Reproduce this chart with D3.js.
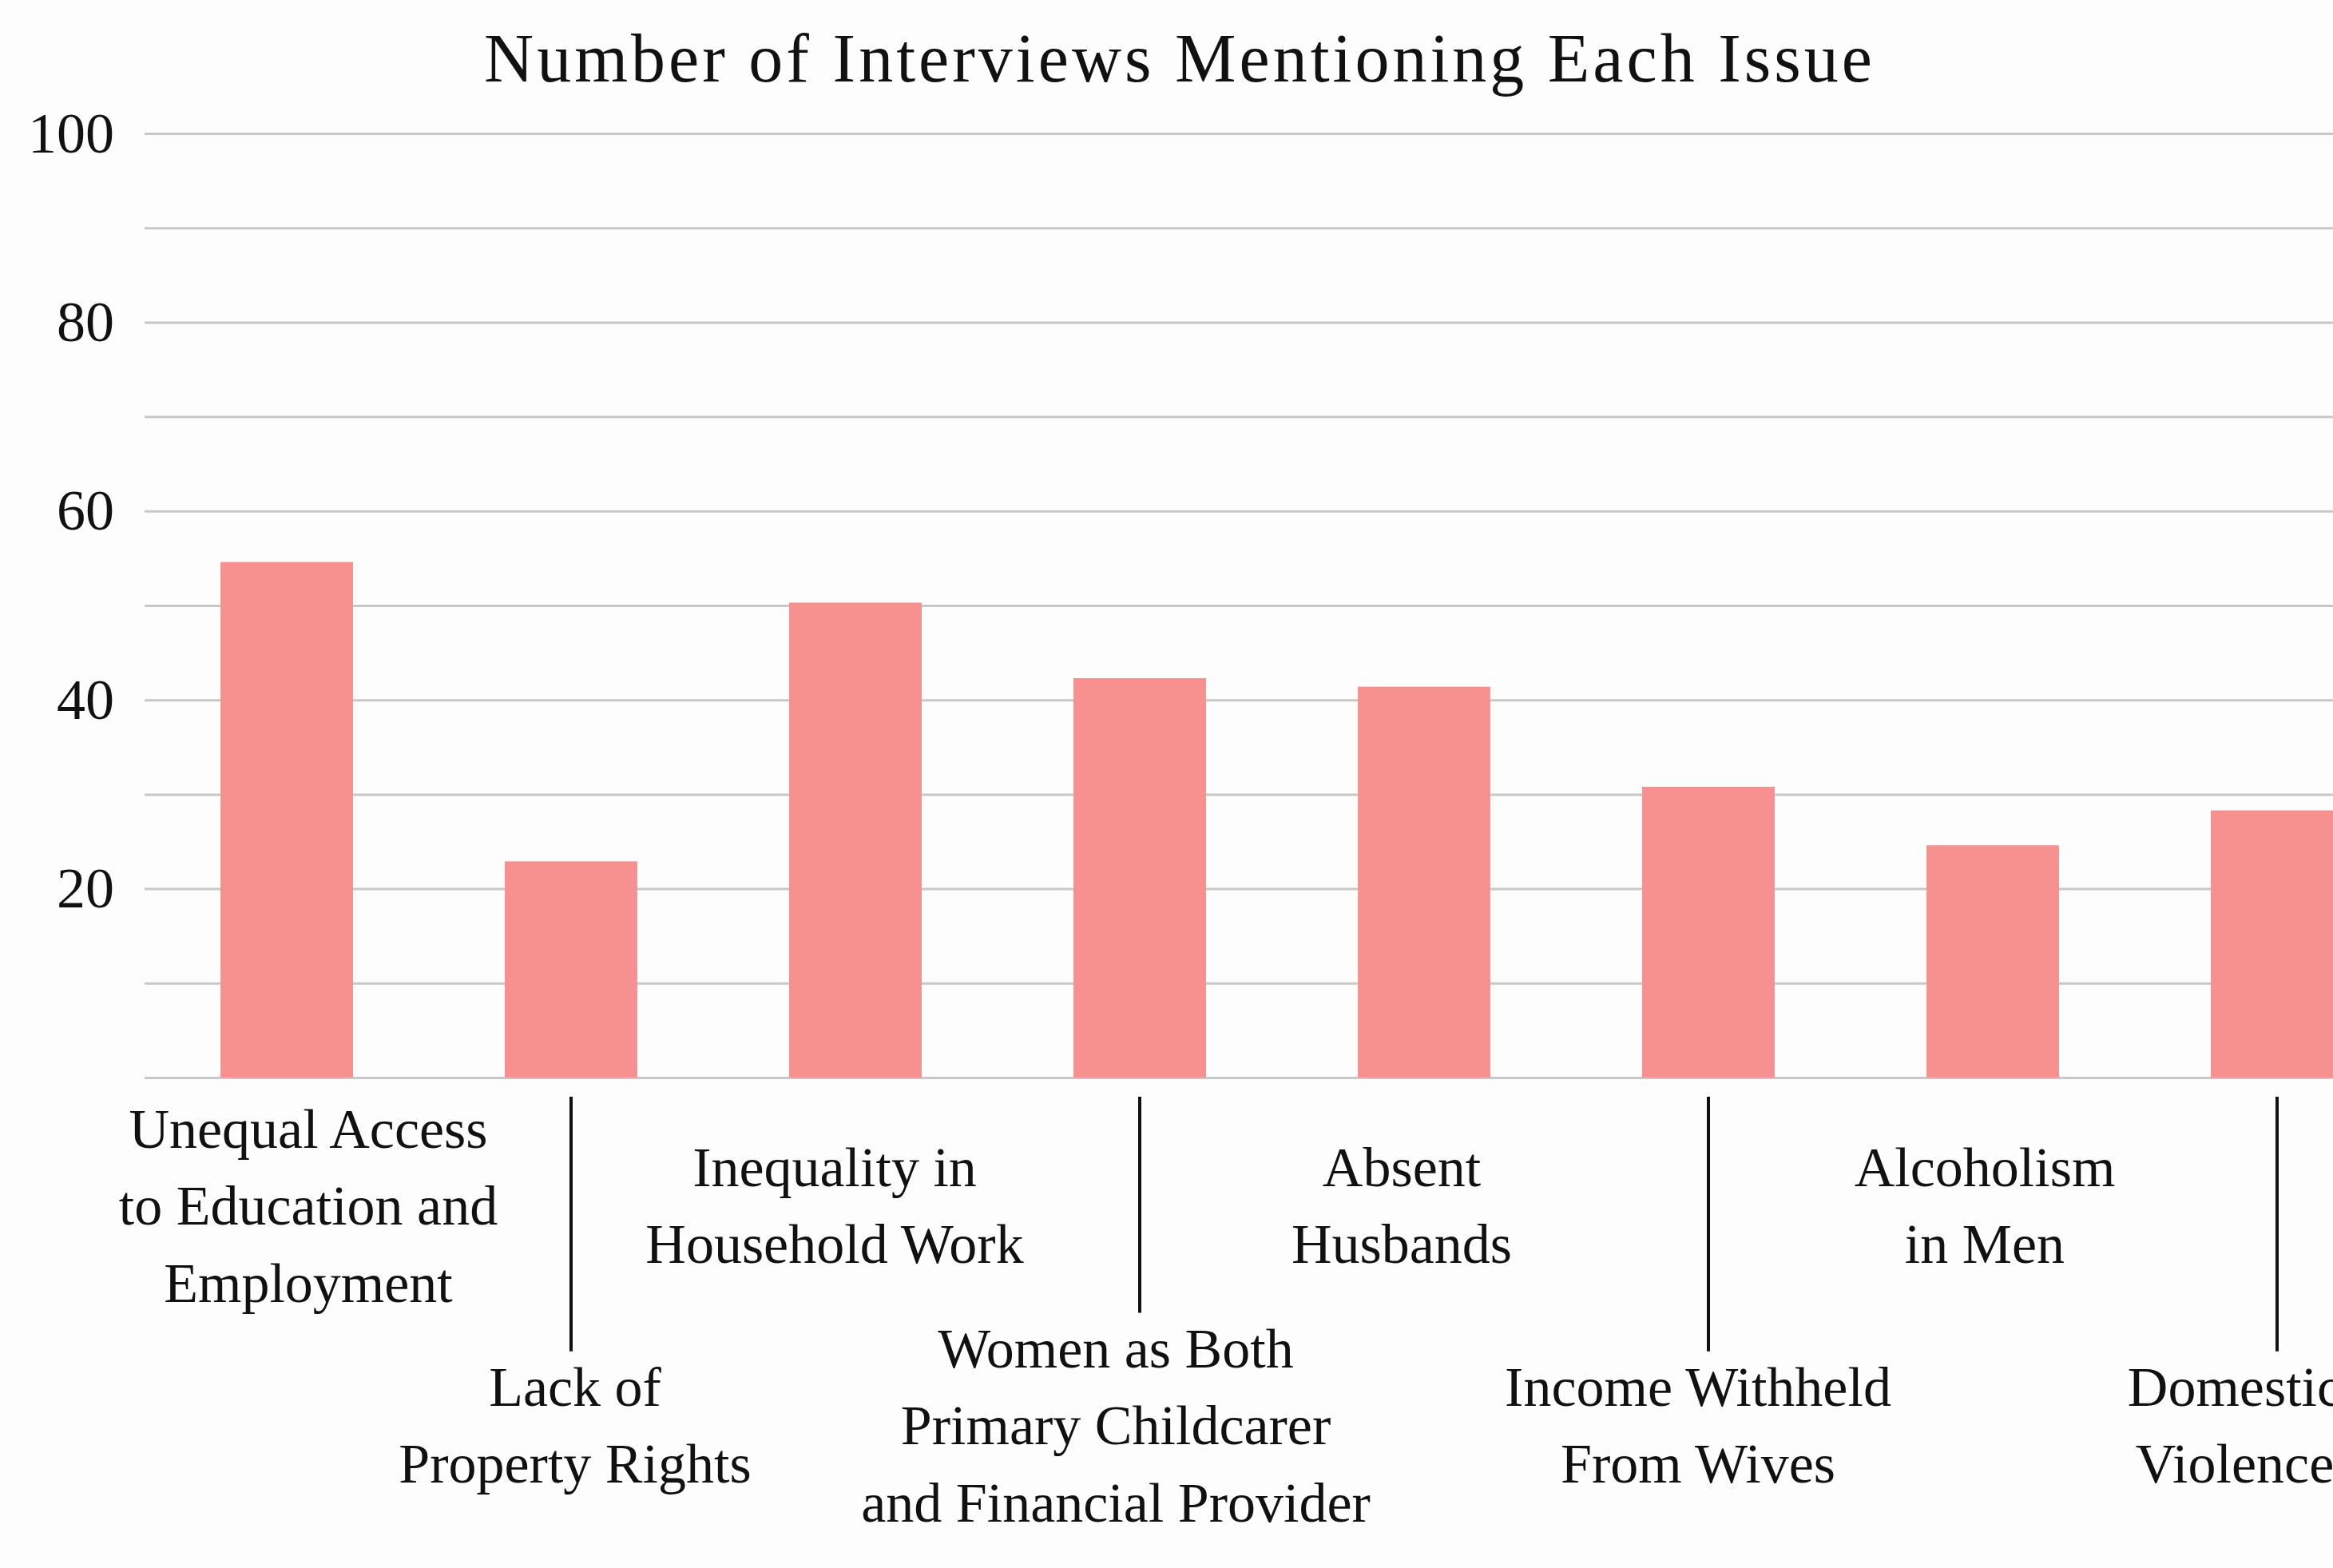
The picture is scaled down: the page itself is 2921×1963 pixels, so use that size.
<!DOCTYPE html>
<html>
<head>
<meta charset="utf-8">
<script src="https://cdn.jsdelivr.net/npm/d3@7"></script>
<style>
  body { margin: 0; background: #fdfdfd; }
  svg { display: block; font-family: "Liberation Serif", "Times New Roman", serif; }
  .grid line { stroke: #c8c8c8; stroke-width: 3; }
  .grid .domain, .yaxis .domain { display: none; }
  .yaxis text { font-family: "Liberation Serif", "Times New Roman", serif; font-size: 72px; fill: #111; }
  .label { font-size: 70px; fill: #111; }
  .leader { stroke: #111; stroke-width: 4; }
  .bar { fill: #f6918f; }
</style>
</head>
<body>
<svg width="2921" height="1963"></svg>
<script>
const title = "Number of Interviews Mentioning Each Issue";

const categories = [
  "Unequal Access\nto Education and\nEmployment",
  "Lack of\nProperty Rights",
  "Inequality in\nHousehold Work",
  "Women as Both\nPrimary Childcarer\nand Financial Provider",
  "Absent\nHusbands",
  "Income Withheld\nFrom Wives",
  "Alcoholism\nin Men",
  "Domestic\nViolence"
];

const values = [54.6, 22.9, 50.3, 42.3, 41.4, 30.8, 24.6, 28.3];

const gridTicks = [0, 10, 20, 30, 40, 50, 60, 70, 80, 90, 100];
const labelTicks = [20, 40, 60, 80, 100];

const svg = d3.select("svg"),
  width = +svg.attr("width"),
  height = +svg.attr("height");

const plotLeft = 181, plotTop = 167, plotBottom = 1349;
const step = 356; // the chart runs past the right edge, as in the source

// the labels in the source sit a little off their bar centres
const labelNudge = [27, 5, -26, -30, -28, -13, -10, -53];

const x = d3
  .scaleBand()
  .domain(categories)
  .range([plotLeft, plotLeft + step * categories.length])
  .paddingInner(0.534)
  .paddingOuter(0.267);

const y = d3.scaleLinear().domain([0, 100]).range([plotBottom, plotTop]);

// gridlines
svg
  .append("g")
  .attr("class", "grid")
  .attr("transform", `translate(${plotLeft},0)`)
  .call(d3.axisLeft(y).tickValues(gridTicks).tickSize(-(width - plotLeft)).tickFormat(""));

// y labels
svg
  .append("g")
  .attr("class", "yaxis")
  .attr("transform", `translate(${plotLeft},0)`)
  .call(d3.axisLeft(y).tickValues(labelTicks).tickSize(0).tickPadding(38));

// bars
svg
  .append("g")
  .selectAll("rect")
  .data(categories)
  .enter()
  .append("rect")
  .attr("class", "bar")
  .attr("x", (d) => x(d))
  .attr("y", (d, i) => y(values[i]))
  .attr("width", x.bandwidth())
  .attr("height", (d, i) => y(0) - y(values[i]));

// title
svg
  .append("text")
  .attr("x", 1477)
  .attr("y", 102)
  .attr("text-anchor", "middle")
  .style("font-size", "86px")
  .style("letter-spacing", "4px")
  .style("fill", "#111")
  .text(title);

// category labels, alternating rows; the lower row gets a leader line
const lineH = 96.5;
const labels = svg.append("g");

categories.forEach((c, i) => {
  const lines = c.split("\n");
  const cx = x(c) + x.bandwidth() / 2;
  const mid = i % 2 === 0 ? y(0) + 184 : y(0) + 459;
  const first = mid - ((lines.length - 1) / 2) * lineH;

  const t = labels
    .append("text")
    .attr("class", "label")
    .attr("text-anchor", "middle");
  lines.forEach((l, k) => {
    t.append("tspan")
      .attr("x", cx + labelNudge[i])
      .attr("y", first + k * lineH)
      .text(l);
  });

  if (i % 2 === 1) {
    labels
      .append("line")
      .attr("class", "leader")
      .attr("x1", cx)
      .attr("x2", cx)
      .attr("y1", y(0) + 24)
      .attr("y2", first - 68);
  }
});
</script>
</body>
</html>
